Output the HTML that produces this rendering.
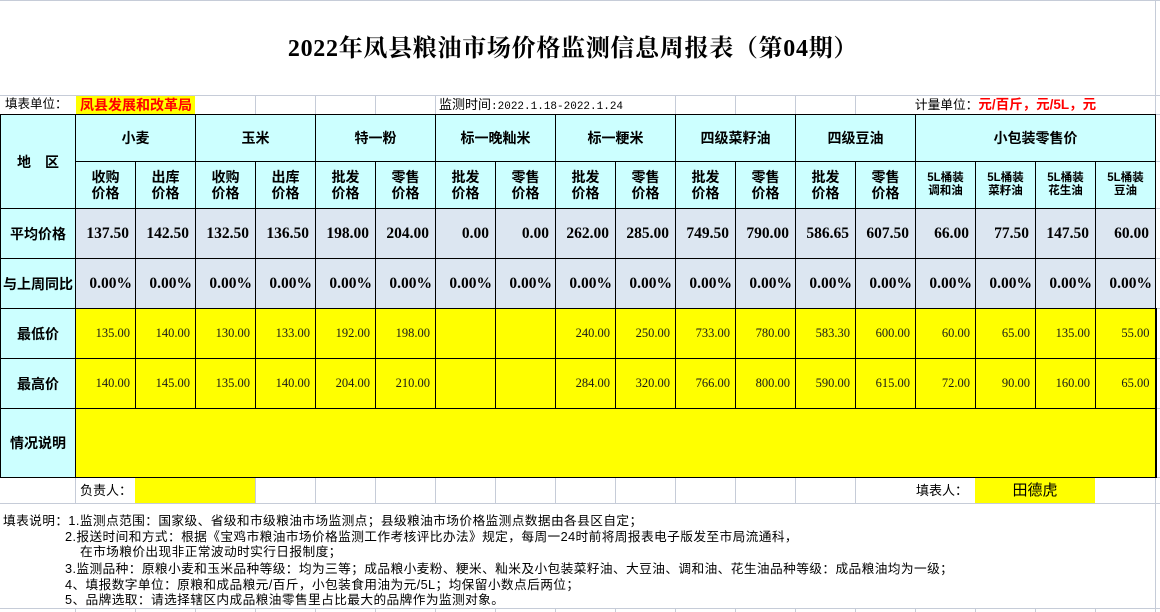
<!DOCTYPE html>
<html><head><meta charset="utf-8">
<style>
*{margin:0;padding:0;box-sizing:border-box}
body{width:1160px;height:612px;position:relative;overflow:hidden;background:#fff;font-family:"Liberation Sans","Noto Sans CJK SC",sans-serif;color:#000}
.a{position:absolute;white-space:nowrap}
.gv{position:absolute;width:1px;background:#c6ccd8}
.gh{position:absolute;height:1px;background:#c6ccd8}
table{position:absolute;left:0;top:114px;border-collapse:collapse;table-layout:fixed;width:1156px}
td{border:1px solid #000;padding:0;text-align:center;vertical-align:middle;overflow:hidden;white-space:nowrap}
.cy{background:#ccffff;font-weight:bold;font-size:14px;font-family:"Liberation Sans","Noto Sans CJK SC",sans-serif;line-height:16px}
.cy.s{font-size:11.5px;line-height:13px}
.av{background:#dce6f1;font-family:"Liberation Serif",serif;font-weight:bold;font-size:15.5px;text-align:right;padding-right:6px}
.pc{background:#dce6f1;font-family:"Liberation Serif",serif;font-weight:bold;font-size:15.5px;text-align:right;padding-right:3px}
.ye{background:#ffff00;font-family:"Liberation Serif",serif;font-size:12.5px;text-align:right;padding-right:5px;color:#1a1a1a}
.rb{border-right:2px solid #000}
.note{position:absolute;white-space:nowrap;font-size:12.7px;line-height:15px;letter-spacing:0.4px;font-family:"Liberation Sans","Noto Sans CJK SC",sans-serif}
</style></head>
<body>
<!-- grid lines -->
<div class="gh" style="left:0;top:0;width:1160px"></div>
<div class="gh" style="left:0;top:95px;width:1160px"></div>
<div class="gv" style="left:1155px;top:0;height:114px"></div>
<div class="gv" style="left:255px;top:95px;height:19px"></div>
<div class="gv" style="left:315px;top:95px;height:19px"></div>
<div class="gv" style="left:375px;top:95px;height:19px"></div>
<div class="gv" style="left:435px;top:95px;height:19px"></div>
<div class="gv" style="left:675px;top:95px;height:19px"></div>
<div class="gv" style="left:735px;top:95px;height:19px"></div>
<div class="gv" style="left:795px;top:95px;height:19px"></div>
<div class="gv" style="left:855px;top:95px;height:19px"></div>
<div class="gh" style="left:1156px;top:114px;width:4px"></div>
<div class="gh" style="left:1156px;top:161px;width:4px"></div>
<div class="gh" style="left:1156px;top:208px;width:4px"></div>
<div class="gh" style="left:1156px;top:258px;width:4px"></div>
<div class="gh" style="left:1156px;top:308px;width:4px"></div>
<div class="gh" style="left:1156px;top:358px;width:4px"></div>
<div class="gh" style="left:1156px;top:408px;width:4px"></div>
<div class="gh" style="left:1156px;top:477px;width:4px"></div>
<!-- row 477-503 -->
<div class="gv" style="left:75px;top:477px;height:26px"></div>
<div class="gv" style="left:255px;top:477px;height:26px"></div>
<div class="gv" style="left:315px;top:477px;height:26px"></div>
<div class="gv" style="left:375px;top:477px;height:26px"></div>
<div class="gv" style="left:435px;top:477px;height:26px"></div>
<div class="gv" style="left:495px;top:477px;height:26px"></div>
<div class="gv" style="left:555px;top:477px;height:26px"></div>
<div class="gv" style="left:615px;top:477px;height:26px"></div>
<div class="gv" style="left:675px;top:477px;height:26px"></div>
<div class="gv" style="left:735px;top:477px;height:26px"></div>
<div class="gv" style="left:795px;top:477px;height:26px"></div>
<div class="gv" style="left:855px;top:477px;height:26px"></div>
<div class="gv" style="left:1155px;top:477px;height:135px"></div>
<div class="gh" style="left:0;top:503px;width:1160px"></div>
<div class="gh" style="left:0;top:608px;width:1160px"></div>
<div class="a" style="left:75px;top:609px;width:1081px;height:3px;background:repeating-linear-gradient(90deg,#c6ccd8 0 1px,transparent 1px 60px)"></div>

<!-- title -->
<div class="a" style="left:0;top:35px;width:1146px;text-align:center;font-family:'Liberation Serif','Noto Serif CJK SC',serif;font-weight:bold;font-size:24px;line-height:28px;letter-spacing:0.7px">2022年凤县粮油市场价格监测信息周报表（第04期）</div>

<!-- row 2 -->
<div class="a" style="left:5px;top:95px;height:19px;line-height:19px;font-size:12.5px">填表单位：</div>
<div class="a" style="left:76px;top:96px;width:119px;height:18px;background:#ffff00;color:#ff0000;font-weight:bold;font-size:14px;line-height:18px;padding-left:4px">凤县发展和改革局</div>
<div class="a" style="left:439px;top:95px;height:19px;line-height:19px;font-size:13px">监测时间<span style="font-family:'Liberation Mono',monospace;font-size:11px">:2022.1.18-2022.1.24</span></div>
<div class="a" style="left:856px;top:95px;width:299px;height:19px;line-height:19px;font-size:12.7px;text-align:center">计量单位：<span style="color:#ff0000;font-weight:bold;font-size:13.5px">元/百斤，元/5L，元</span></div>

<table>
<colgroup><col style="width:75px"><col span="18" style="width:60px"></colgroup>
<tr style="height:47px">
<td rowspan="2" class="cy">地　区</td>
<td colspan="2" class="cy">小麦</td><td colspan="2" class="cy">玉米</td><td colspan="2" class="cy">特一粉</td><td colspan="2" class="cy">标一晚籼米</td><td colspan="2" class="cy">标一粳米</td><td colspan="2" class="cy">四级菜籽油</td><td colspan="2" class="cy">四级豆油</td><td colspan="4" class="cy">小包装零售价</td>
</tr>
<tr style="height:47px">
<td class="cy">收购<br>价格</td><td class="cy">出库<br>价格</td><td class="cy">收购<br>价格</td><td class="cy">出库<br>价格</td>
<td class="cy">批发<br>价格</td><td class="cy">零售<br>价格</td><td class="cy">批发<br>价格</td><td class="cy">零售<br>价格</td>
<td class="cy">批发<br>价格</td><td class="cy">零售<br>价格</td><td class="cy">批发<br>价格</td><td class="cy">零售<br>价格</td>
<td class="cy">批发<br>价格</td><td class="cy">零售<br>价格</td>
<td class="cy s">5L桶装<br>调和油</td><td class="cy s">5L桶装<br>菜籽油</td><td class="cy s">5L桶装<br>花生油</td><td class="cy s">5L桶装<br>豆油</td>
</tr>
<tr style="height:50px">
<td class="cy">平均价格</td>
<td class="av">137.50</td><td class="av">142.50</td><td class="av">132.50</td><td class="av">136.50</td><td class="av">198.00</td><td class="av">204.00</td><td class="av">0.00</td><td class="av">0.00</td><td class="av">262.00</td><td class="av">285.00</td><td class="av">749.50</td><td class="av">790.00</td><td class="av">586.65</td><td class="av">607.50</td><td class="av">66.00</td><td class="av">77.50</td><td class="av">147.50</td><td class="av">60.00</td>
</tr>
<tr style="height:50px">
<td class="cy">与上周同比</td>
<td class="pc">0.00%</td><td class="pc">0.00%</td><td class="pc">0.00%</td><td class="pc">0.00%</td><td class="pc">0.00%</td><td class="pc">0.00%</td><td class="pc">0.00%</td><td class="pc">0.00%</td><td class="pc">0.00%</td><td class="pc">0.00%</td><td class="pc">0.00%</td><td class="pc">0.00%</td><td class="pc">0.00%</td><td class="pc">0.00%</td><td class="pc">0.00%</td><td class="pc">0.00%</td><td class="pc">0.00%</td><td class="pc">0.00%</td>
</tr>
<tr style="height:50px">
<td class="cy">最低价</td>
<td class="ye">135.00</td><td class="ye">140.00</td><td class="ye">130.00</td><td class="ye">133.00</td><td class="ye">192.00</td><td class="ye">198.00</td><td class="ye"></td><td class="ye"></td><td class="ye">240.00</td><td class="ye">250.00</td><td class="ye">733.00</td><td class="ye">780.00</td><td class="ye">583.30</td><td class="ye">600.00</td><td class="ye">60.00</td><td class="ye">65.00</td><td class="ye">135.00</td><td class="ye rb">55.00</td>
</tr>
<tr style="height:50px">
<td class="cy">最高价</td>
<td class="ye">140.00</td><td class="ye">145.00</td><td class="ye">135.00</td><td class="ye">140.00</td><td class="ye">204.00</td><td class="ye">210.00</td><td class="ye"></td><td class="ye"></td><td class="ye">284.00</td><td class="ye">320.00</td><td class="ye">766.00</td><td class="ye">800.00</td><td class="ye">590.00</td><td class="ye">615.00</td><td class="ye">72.00</td><td class="ye">90.00</td><td class="ye">160.00</td><td class="ye rb">65.00</td>
</tr>
<tr style="height:69px">
<td class="cy">情况说明</td>
<td colspan="18" class="ye rb"></td>
</tr>
</table>

<!-- row 477-503 -->
<div class="a" style="left:80px;top:478px;height:25px;line-height:25px;font-size:13px">负责人：</div>
<div class="a" style="left:135px;top:478px;width:120px;height:25px;background:#ffff00"></div>
<div class="a" style="left:856px;top:478px;width:112px;height:25px;line-height:25px;font-size:13px;text-align:right">填表人：</div>
<div class="a" style="left:975px;top:478px;width:120px;height:25px;background:#ffff00;text-align:center;line-height:25px;font-size:15px">田德虎</div>

<!-- notes -->
<div class="note" style="left:3px;top:514px">填表说明：1.监测点范围：国家级、省级和市级粮油市场监测点；县级粮油市场价格监测点数据由各县区自定；</div>
<div class="note" style="left:65px;top:530px">2.报送时间和方式：根据《宝鸡市粮油市场价格监测工作考核评比办法》规定，每周一24时前将周报表电子版发至市局流通科，</div>
<div class="note" style="left:80px;top:545px">在市场粮价出现非正常波动时实行日报制度；</div>
<div class="note" style="left:65px;top:562px">3.监测品种：原粮小麦和玉米品种等级：均为三等；成品粮小麦粉、粳米、籼米及小包装菜籽油、大豆油、调和油、花生油品种等级：成品粮油均为一级；</div>
<div class="note" style="left:65px;top:578px">4、填报数字单位：原粮和成品粮元/百斤，小包装食用油为元/5L；均保留小数点后两位；</div>
<div class="note" style="left:65px;top:593px">5、品牌选取：请选择辖区内成品粮油零售里占比最大的品牌作为监测对象。</div>
</body></html>
